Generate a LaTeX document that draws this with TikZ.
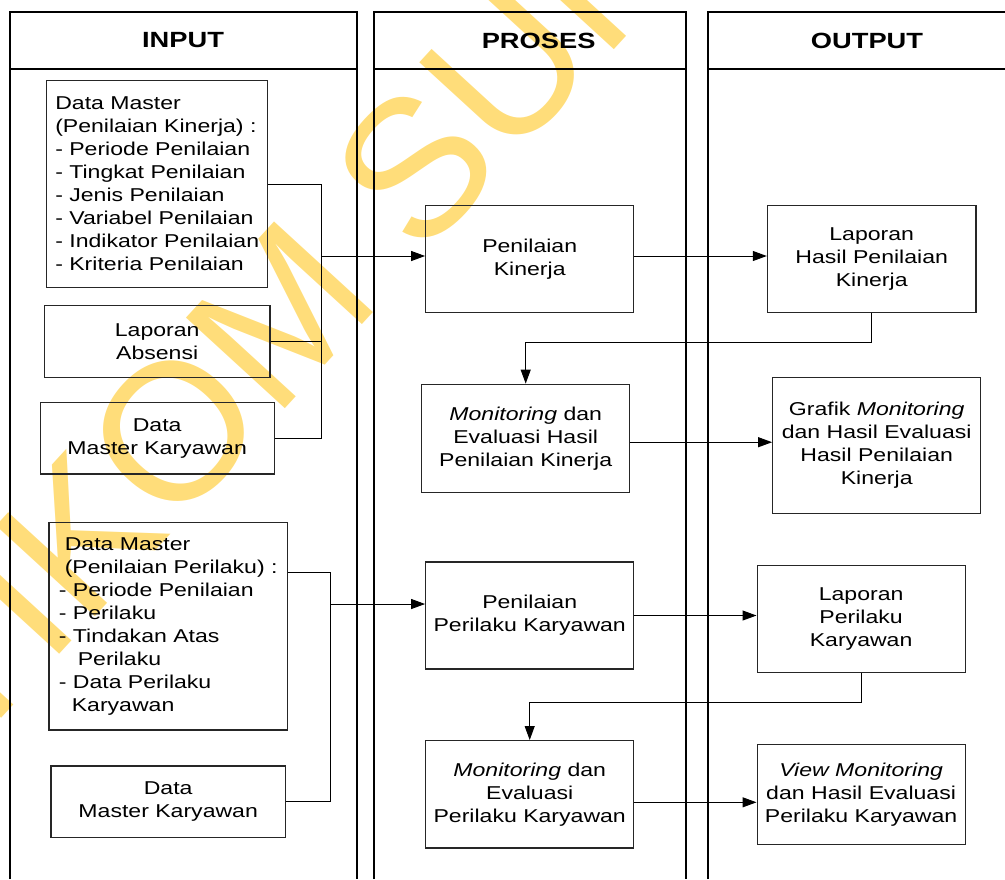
\documentclass[tikz,border=0pt]{standalone}
\usepackage{fontspec}
\setmainfont[FakeStretch=1.24]{Liberation Sans}
\newfontfamily\stampfont{Liberation Sans}
\usetikzlibrary{arrows.meta}
\definecolor{stampyellow}{RGB}{255,221,122}
\newcommand{\boxfont}{\fontsize{9.3}{11.5}\selectfont}
\newcommand{\lanefont}{\fontsize{11}{13}\selectfont\bfseries}
\tikzset{
block/.style={rectangle, text centered, align=center, draw=black!85, line width=0.6pt, inner sep=2pt, font=\boxfont},
listblock/.style={block, align=left},
lane/.style={line width=1pt},
lanehead/.style={font=\lanefont},
stamp/.style={text=stampyellow, inner sep=0pt, font=\stampfont\fontsize{97.5}{100}\selectfont},
arrow/.style={line width=0.5pt,-{Triangle[length=7pt,width=5pt]}},
noarrow/.style={line width=0.5pt}}

\begin{document}
\begin{tikzpicture}[x=0.5pt,y=-0.5pt]
\useasboundingbox (0,0) rectangle (1005,879);
\clip (0,0) rectangle (1005,879);
\node (stampmark) [stamp, rotate=47.5, anchor=base west] at (-121,852) {STIKOM SURABAYA};

% swimlanes
\draw [lane] (10,879) |- (357,12) -- (357,879);
\draw [lane] (10,69) -- (357,69);
\draw [lane] (373.6,879) |- (686,12) -- (686,879);
\draw [lane] (373.6,69) -- (686,69);
\draw [lane] (707.7,879) |- (1010,12);
\draw [lane] (707.7,69) -- (1010,69);
\node (input) [lanehead] at (183,40) {INPUT};
\node (proses) [lanehead] at (538.6,41) {PROSES};
\node (output) [lanehead] at (867,41) {OUTPUT};

% input
\node (dmkinerja) [listblock, minimum width=110.5pt, minimum height=103.7pt] at (157.2,184) {Data Master\\(Penilaian Kinerja) :\\- Periode Penilaian\\- Tingkat Penilaian\\- Jenis Penilaian\\- Variabel Penilaian\\- Indikator Penilaian\\- Kriteria Penilaian};
\node (absensi) [block, below of=dmkinerja, node distance=78.8pt, minimum width=112.8pt, minimum height=36pt] {Laporan\\Absensi};
\node (karyawan) [block, below of=absensi, node distance=48.3pt, minimum width=117pt, minimum height=35.7pt] {Data\\Master Karyawan};
\node (dmperilaku) [listblock, minimum width=119.2pt, minimum height=103.7pt] at (168.2,626.3) {\hspace*{3pt}Data Master\\\hspace*{3pt}(Penilaian Perilaku) :\\- Periode Penilaian\\- Perilaku\\- Tindakan Atas\\\hspace*{9.5pt}Perilaku\\- Data Perilaku\\\hspace*{6.5pt}Karyawan};
\node (karyawanb) [block, below of=dmperilaku, node distance=87.7pt, minimum width=117.3pt, minimum height=35.7pt] {Data\\Master Karyawan};

% proses
\node (kinerja) [block, minimum width=104pt, minimum height=53.5pt] at (529.7,259.2) {Penilaian\\Kinerja};
\node (evkinerja) [block, below of=kinerja, node distance=89.5pt, xshift=-2pt, minimum width=104pt, minimum height=54pt] {\textit{Monitoring} dan\\Evaluasi Hasil\\Penilaian Kinerja};
\node (perilaku) [block, minimum width=104pt, minimum height=53.5pt] at (529.7,615.5) {Penilaian\\Perilaku Karyawan};
\node (evperilaku) [block, below of=perilaku, node distance=89.4pt, minimum width=104pt, minimum height=53.7pt] {\textit{Monitoring} dan\\Evaluasi\\Perilaku Karyawan};

% output
\node (lapkinerja) [block, right of=kinerja, node distance=171pt, minimum width=104.3pt, minimum height=53.5pt] {Laporan\\Hasil Penilaian\\Kinerja};
\node (grafik) [block, right of=evkinerja, node distance=175.5pt, yshift=-3.5pt, minimum width=104pt, minimum height=68pt] {Grafik \textit{Monitoring}\\dan Hasil Evaluasi\\Hasil Penilaian\\Kinerja};
\node (lapperilaku) [block, right of=perilaku, node distance=165.7pt, yshift=-1.8pt, minimum width=104pt, minimum height=53.7pt] {Laporan\\Perilaku\\Karyawan};
\node (view) [block, right of=evperilaku, node distance=165.7pt, minimum width=104pt, minimum height=50pt] {\textit{View Monitoring}\\dan Hasil Evaluasi\\Perilaku Karyawan};

% connectors
\coordinate (busk) at (321.7,256);
\coordinate (busp) at (330,604);
\draw [noarrow] (dmkinerja.east) -| (busk);
\draw [noarrow] (absensi.east) -- (absensi.east -| busk);
\draw [noarrow] (karyawan.east) -| (busk);
\draw [arrow] (busk) -- (busk -| kinerja.west);
\draw [noarrow] ([yshift=27pt]dmperilaku.east) -| (busp);
\draw [noarrow] (karyawanb.east) -| (busp);
\draw [arrow] (busp) -- (busp -| perilaku.west);

\draw [arrow] (busk -| kinerja.east) -- (busk -| lapkinerja.west);
\draw [arrow] (lapkinerja.south) -- ++(0,29) -| (evkinerja.north);
\draw [arrow] ([yshift=-2pt]evkinerja.east) -- ([yshift=-2pt]evkinerja.east -| grafik.west);
\draw [arrow] (perilaku.east) -- (perilaku.east -| lapperilaku.west);
\draw [arrow] (lapperilaku.south) -- ++(0,28.6) -| (evperilaku.north);
\draw [arrow] ([yshift=-4pt]evperilaku.east) -- ([yshift=-4pt]evperilaku.east -| view.west);
\end{tikzpicture}
\end{document}
